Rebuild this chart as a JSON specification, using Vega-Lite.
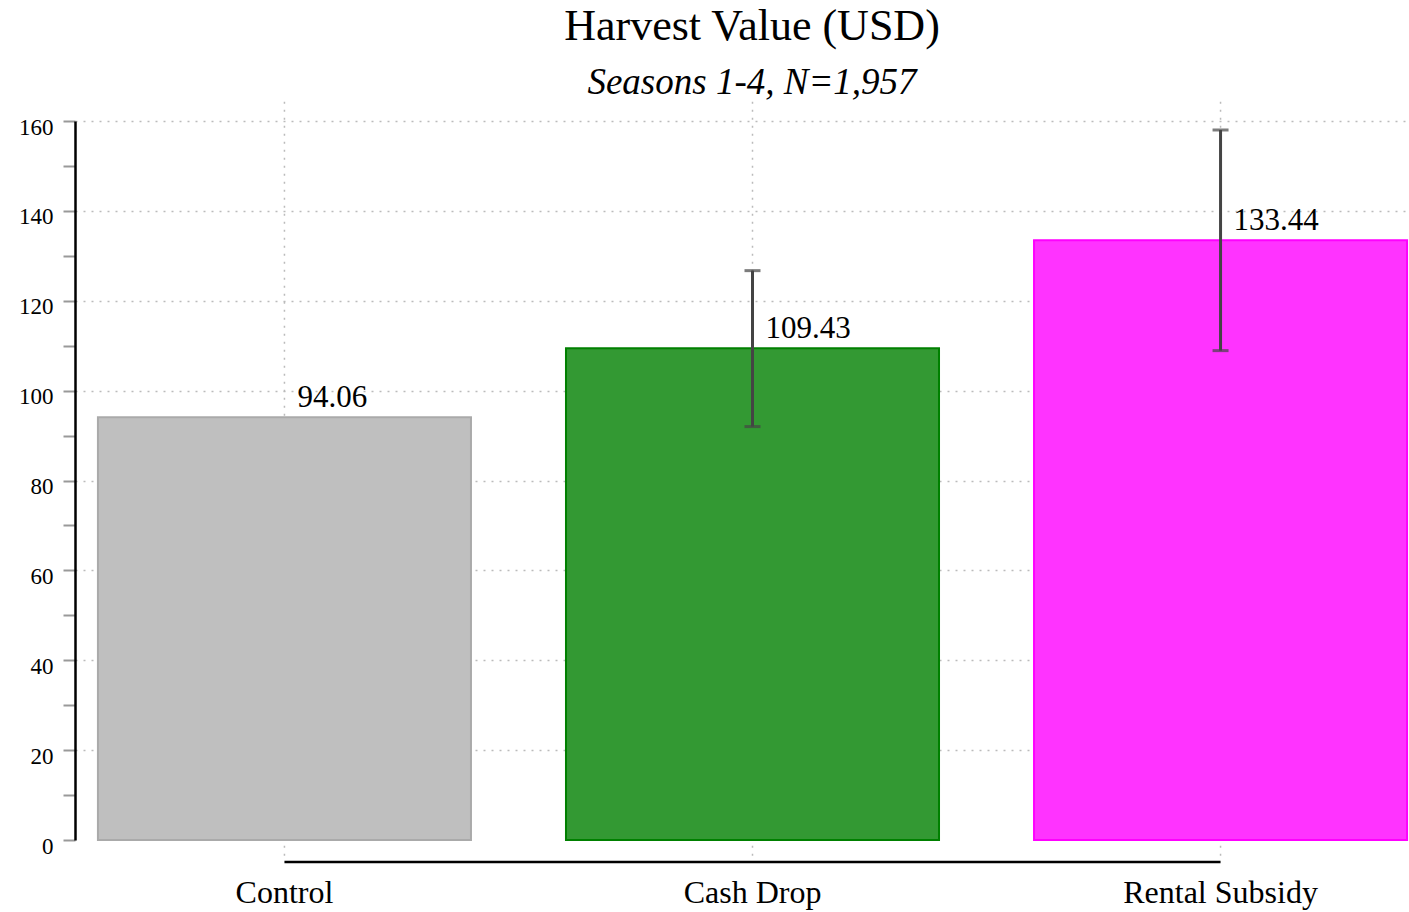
{
  "$schema": "https://vega.github.io/schema/vega-lite/v6.json",
  "autosize": "none",
  "width": 1334,
  "height": 719,
  "padding": {"left": 75, "top": 121, "right": 0, "bottom": 72},
  "background": "white",
  "config": {
    "view": {"stroke": null},
    "font": "Liberation Serif"
  },
  "title": {
    "text": "Harvest Value (USD)",
    "subtitle": "Seasons 1-4, N=1,957",
    "anchor": "middle",
    "dx": 10,
    "fontSize": 44,
    "fontWeight": "normal",
    "font": "Liberation Serif",
    "color": "black",
    "subtitleFont": "Liberation Serif",
    "subtitleFontSize": 37,
    "subtitleFontStyle": "italic",
    "subtitleColor": "black",
    "subtitlePadding": 16,
    "offset": -3
  },
  "data": {
    "values": [
      {"group": "Control", "value": 94.06, "label": "94.06", "lo": null, "hi": null},
      {"group": "Cash Drop", "value": 109.43, "label": "109.43", "lo": 92.0, "hi": 126.7},
      {"group": "Rental Subsidy", "value": 133.44, "label": "133.44", "lo": 108.9, "hi": 158.0}
    ]
  },
  "encoding": {
    "x": {
      "field": "group",
      "type": "nominal",
      "sort": null,
      "scale": {"domain": ["Control", "Cash Drop", "Rental Subsidy"], "range": [0, 1355], "paddingInner": 0.203, "paddingOuter": 0.049},
      "axis": {
        "title": null,
        "domain": false,
        "ticks": false,
        "grid": false,
        "labelAngle": 0,
        "labelFontSize": 32,
        "labelFont": "Liberation Serif",
        "labelColor": "black",
        "labelPadding": 37,
        "labelLimit": 0
      }
    }
  },
  "layer": [
    {
      "mark": {"type": "rule", "stroke": "#bbbbbb", "strokeDash": [2, 6], "strokeWidth": 1.5},
      "encoding": {
        "y": {"datum": -3.5, "type": "quantitative", "scale": {"domain": [0, 160], "nice": false}},
        "y2": {"datum": 165}
      }
    },
    {
      "mark": {"type": "bar", "strokeWidth": 2},
      "encoding": {
        "y": {
          "field": "value",
          "type": "quantitative",
          "scale": {"domain": [0, 160], "nice": false},
          "axis": {
            "title": null,
            "values": [0, 10, 20, 30, 40, 50, 60, 70, 80, 90, 100, 110, 120, 130, 140, 150, 160],
            "labelExpr": "datum.value % 20 == 0 ? datum.label : ''",
            "domainColor": "black",
            "domainWidth": 2.5,
            "tickColor": "#999999",
            "tickSize": 12,
            "tickWidth": 2,
            "labelFontSize": 23,
            "labelFont": "Liberation Serif",
            "labelColor": "black",
            "labelPadding": 10,
            "labelOffset": 6,
            "grid": true,
            "gridColor": "#bbbbbb",
            "gridDash": [2, 6],
            "gridWidth": 1.5,
            "gridOpacity": {"condition": {"test": "datum.value % 20 == 0 && datum.value > 0", "value": 1}, "value": 0}
          }
        },
        "fill": {
          "field": "group",
          "type": "nominal",
          "scale": {"domain": ["Control", "Cash Drop", "Rental Subsidy"], "range": ["#bfbfbf", "#339933", "#ff33ff"]},
          "legend": null
        },
        "stroke": {
          "field": "group",
          "type": "nominal",
          "scale": {"domain": ["Control", "Cash Drop", "Rental Subsidy"], "range": ["#aaaaaa", "#008000", "#ff00ff"]},
          "legend": null
        }
      }
    },
    {
      "transform": [{"filter": "datum.lo != null"}],
      "mark": {"type": "rule", "color": "#444444", "strokeWidth": 3},
      "encoding": {
        "y": {"field": "lo", "type": "quantitative"},
        "y2": {"field": "hi"}
      }
    },
    {
      "transform": [{"filter": "datum.lo != null"}],
      "mark": {"type": "tick", "color": "#444444", "thickness": 3, "size": 16},
      "encoding": {"y": {"field": "lo", "type": "quantitative"}}
    },
    {
      "transform": [{"filter": "datum.lo != null"}],
      "mark": {"type": "tick", "color": "#444444", "thickness": 3, "size": 16},
      "encoding": {"y": {"field": "hi", "type": "quantitative"}}
    },
    {
      "mark": {"type": "text", "align": "left", "baseline": "bottom", "dx": 13, "dy": -3, "fontSize": 31, "font": "Liberation Serif", "color": "black"},
      "encoding": {
        "y": {"field": "value", "type": "quantitative"},
        "text": {"field": "label"}
      }
    },
    {
      "data": {"values": [{"group": "Control", "to": "Rental Subsidy"}]},
      "mark": {"type": "rule", "color": "black", "strokeWidth": 2.5},
      "encoding": {
        "x2": {"field": "to"},
        "y": {"datum": -4.9, "type": "quantitative"}
      }
    }
  ],
  "resolve": {"scale": {"fill": "independent", "stroke": "independent"}}
}
